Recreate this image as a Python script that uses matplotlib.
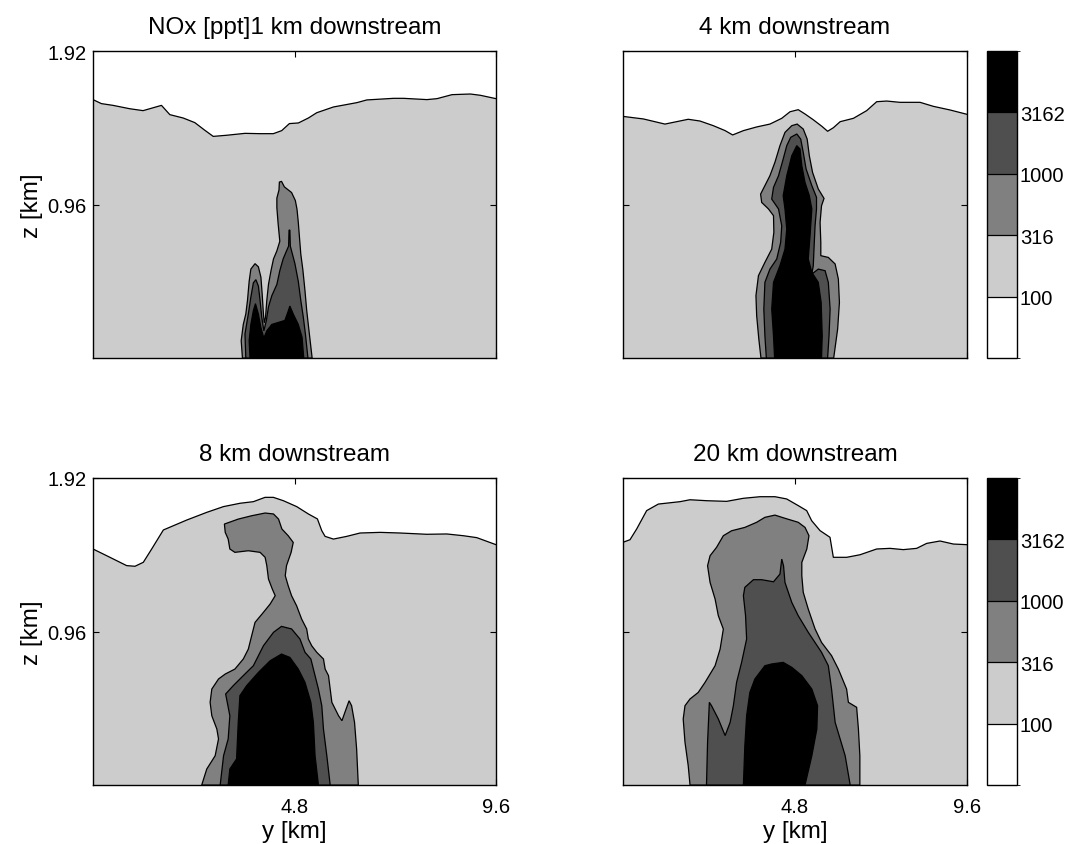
import matplotlib
matplotlib.use("Agg")
import matplotlib.pyplot as plt
from matplotlib.colors import ListedColormap, BoundaryNorm
from matplotlib.colorbar import ColorbarBase

plt.rcParams['font.family'] = ['Liberation Sans', 'DejaVu Sans']

# ---------------- data (y in km, z in km) ----------------
titles = ["NOx [ppt]1 km downstream", "4 km downstream", "8 km downstream", "20 km downstream"]
levels = [100, 316, 1000, 3162]
level_colors = ["#ffffff", "#cccccc", "#808080", "#4f4f4f", "#000000"]
y_max = 9.6
z_max = 1.92
x_ticks = [4.8, 9.6]
z_ticks = [0.96, 1.92]

# Panel 1: 1 km downstream
p1_top_y = [0, 0.199, 0.477, 0.875, 1.193, 1.631, 1.830, 2.148, 2.426, 2.665, 2.864, 3.182, 3.620, 3.978,
            4.296, 4.495, 4.678, 4.893, 5.131, 5.330, 5.728, 6.285, 6.523, 7.160, 7.399, 7.955, 8.194,
            8.552, 8.990, 9.228, 9.6]
p1_top_z = [1.616, 1.591, 1.580, 1.559, 1.547, 1.580, 1.522, 1.501, 1.472, 1.424, 1.386, 1.393, 1.405, 1.403,
            1.403, 1.422, 1.466, 1.470, 1.501, 1.534, 1.570, 1.597, 1.614, 1.624, 1.624, 1.616, 1.622,
            1.647, 1.651, 1.643, 1.622]
p1_c316_y = [3.56, 3.53, 3.58, 3.64, 3.68, 3.72, 3.76, 3.86, 3.94, 4.00, 4.03, 4.06, 4.08, 4.11, 4.14, 4.18,
             4.24, 4.30, 4.38, 4.45, 4.41, 4.38, 4.38, 4.43, 4.44, 4.49, 4.56, 4.73, 4.82, 4.86, 4.89,
             4.95, 5.00, 5.05, 5.09, 5.15, 5.22]
p1_c316_z = [0.00, 0.108, 0.21, 0.275, 0.36, 0.48, 0.556, 0.59, 0.57, 0.505, 0.40, 0.275, 0.22, 0.255, 0.36,
             0.46, 0.546, 0.62, 0.67, 0.73, 0.84, 0.94, 1.00, 1.05, 1.10, 1.105, 1.07, 1.035, 0.985, 0.93,
             0.85, 0.65, 0.55, 0.42, 0.30, 0.16, 0.00]
p1_c1000_y = [3.64, 3.62, 3.70, 3.76, 3.82, 3.88, 3.94, 3.98, 4.02, 4.07, 4.13, 4.18, 4.26, 4.38, 4.45,
              4.53, 4.61, 4.66, 4.67, 4.69, 4.70, 4.73, 4.81, 4.89, 4.95, 5.01, 5.06, 5.12]
p1_c1000_z = [0.00, 0.15, 0.275, 0.38, 0.47, 0.49, 0.45, 0.36, 0.255, 0.17, 0.235, 0.32, 0.39, 0.46, 0.546,
              0.62, 0.67, 0.70, 0.80, 0.80, 0.70, 0.67, 0.59, 0.48, 0.36, 0.255, 0.15, 0.00]
p1_c3162_y = [3.74, 3.72, 3.76, 3.82, 3.87, 3.94, 4.00, 4.07, 4.14, 4.26, 4.57, 4.64, 4.69, 4.77, 4.89,
              4.98, 5.02]
p1_c3162_z = [0.00, 0.108, 0.21, 0.296, 0.34, 0.275, 0.19, 0.125, 0.17, 0.21, 0.235, 0.285, 0.325, 0.275,
              0.21, 0.13, 0.00]

# Panel 2: 4 km downstream
p2_top_y = [0, 0.57, 1.17, 1.82, 2.15, 2.52, 2.85, 3.06, 3.36, 3.73, 4.10, 4.43, 4.66, 4.89, 5.08, 5.31,
            5.55, 5.71, 5.87, 6.06, 6.43, 6.80, 7.08, 7.36, 7.73, 8.29, 8.66, 9.13, 9.6]
p2_top_z = [1.511, 1.495, 1.463, 1.493, 1.482, 1.453, 1.422, 1.395, 1.422, 1.445, 1.463, 1.499, 1.540, 1.553,
            1.526, 1.490, 1.449, 1.418, 1.440, 1.478, 1.499, 1.547, 1.603, 1.607, 1.599, 1.599, 1.574,
            1.551, 1.524]
p2_c316_y = [3.85, 3.79, 3.73, 3.71, 3.78, 3.96, 4.15, 4.21, 4.20, 4.06, 3.87, 3.84, 3.96, 4.10, 4.24, 4.38,
             4.52, 4.71, 4.86, 5.03, 5.14, 5.20, 5.29, 5.45, 5.61, 5.54, 5.50, 5.52, 5.52, 5.73, 5.92,
             6.01, 6.04, 5.99, 5.88]
p2_c316_z = [0.00, 0.119, 0.265, 0.390, 0.515, 0.598, 0.681, 0.786, 0.890, 0.932, 0.973, 1.025, 1.078,
             1.140, 1.224, 1.328, 1.411, 1.453, 1.463, 1.432, 1.369, 1.265, 1.161, 1.057, 0.998, 0.952,
             0.848, 0.723, 0.640, 0.629, 0.588, 0.494, 0.348, 0.181, 0.00]
p2_c1000_y = [4.00, 3.96, 3.93, 3.96, 4.10, 4.29, 4.40, 4.43, 4.34, 4.15, 4.20, 4.34, 4.47, 4.57, 4.68,
              4.85, 4.96, 5.03, 5.11, 5.27, 5.40, 5.40, 5.36, 5.33, 5.31, 5.27, 5.45, 5.64, 5.73, 5.78,
              5.75, 5.71]
p2_c1000_z = [0.00, 0.139, 0.306, 0.473, 0.556, 0.619, 0.723, 0.827, 0.932, 0.994, 1.067, 1.140, 1.244,
              1.328, 1.380, 1.401, 1.369, 1.286, 1.182, 1.078, 1.005, 0.932, 0.827, 0.681, 0.577, 0.525,
              0.556, 0.546, 0.473, 0.306, 0.139, 0.00]
p2_c3162_y = [4.23, 4.20, 4.15, 4.20, 4.38, 4.52, 4.57, 4.52, 4.47, 4.57, 4.71, 4.85, 4.94, 4.99, 5.08,
              5.20, 5.27, 5.22, 5.17, 5.27, 5.45, 5.53, 5.56, 5.54]
p2_c3162_z = [0.00, 0.139, 0.306, 0.473, 0.577, 0.681, 0.806, 0.932, 1.015, 1.140, 1.265, 1.328, 1.307,
              1.203, 1.098, 1.015, 0.932, 0.765, 0.619, 0.536, 0.473, 0.348, 0.139, 0.00]

# Panel 3: 8 km downstream
p3_top_y = [0, 0.326, 0.802, 1.001, 1.199, 1.398, 1.676, 2.232, 2.708, 3.106, 3.503, 3.820, 4.098, 4.297,
            4.535, 4.853, 5.131, 5.346, 5.449, 5.528, 5.727, 6.044, 6.362, 6.839, 7.315, 7.951, 8.427,
            8.824, 9.142, 9.6]
p3_top_z = [1.476, 1.434, 1.372, 1.368, 1.393, 1.476, 1.595, 1.657, 1.705, 1.741, 1.762, 1.772, 1.799,
            1.799, 1.778, 1.741, 1.695, 1.664, 1.591, 1.555, 1.538, 1.555, 1.576, 1.580, 1.576, 1.568,
            1.570, 1.559, 1.547, 1.503]
p3_c316_y = [2.59, 2.71, 2.91, 2.99, 2.95, 2.83, 2.79, 2.83, 2.99, 3.15, 3.38, 3.58, 3.70, 3.78, 3.86, 4.06,
             4.22, 4.34, 4.27, 4.18, 4.14, 4.10, 3.98, 3.70, 3.38, 3.26, 3.22, 3.15, 3.13, 3.46, 3.78, 4.10,
             4.30, 4.42, 4.50, 4.65, 4.77, 4.72, 4.61, 4.58, 4.65, 4.73, 4.85, 4.97, 5.09, 5.13, 5.21, 5.33,
             5.49, 5.53, 5.61, 5.69, 5.85, 5.93, 6.00, 6.10, 6.16, 6.23, 6.28, 6.32]
p3_c316_z = [0.00, 0.100, 0.183, 0.288, 0.350, 0.433, 0.517, 0.600, 0.663, 0.694, 0.725, 0.788, 0.850,
             0.934, 1.017, 1.080, 1.132, 1.184, 1.226, 1.288, 1.372, 1.424, 1.455, 1.465, 1.455, 1.476,
             1.538, 1.580, 1.632, 1.663, 1.684, 1.701, 1.695, 1.663, 1.601, 1.559, 1.517, 1.455, 1.372,
             1.309, 1.246, 1.184, 1.121, 1.038, 0.976, 0.913, 0.871, 0.830, 0.788, 0.725, 0.684, 0.517,
             0.433, 0.402, 0.454, 0.527, 0.496, 0.392, 0.225, 0.00]
p3_c1000_y = [3.03, 3.11, 3.22, 3.26, 3.16, 3.34, 3.58, 3.82, 4.06, 4.30, 4.49, 4.73, 4.93, 5.05, 5.19,
              5.25, 5.37, 5.45, 5.49, 5.57, 5.65]
p3_c1000_z = [0.00, 0.183, 0.288, 0.433, 0.569, 0.621, 0.684, 0.746, 0.871, 0.955, 0.992, 0.976, 0.913,
              0.830, 0.788, 0.725, 0.600, 0.496, 0.350, 0.183, 0.00]
p3_c3162_y = [3.22, 3.26, 3.42, 3.46, 3.50, 3.66, 3.94, 4.22, 4.49, 4.69, 4.89, 5.05, 5.19, 5.25, 5.29,
              5.37]
p3_c3162_z = [0.00, 0.100, 0.163, 0.392, 0.559, 0.621, 0.704, 0.777, 0.819, 0.798, 0.725, 0.642, 0.517,
              0.392, 0.183, 0.00]

# Panel 4: 20 km downstream
p4_top_y = [0, 0.195, 0.381, 0.660, 0.986, 1.591, 1.870, 2.335, 2.893, 3.358, 3.823, 4.242, 4.567, 4.893,
            5.126, 5.265, 5.498, 5.777, 5.870, 6.242, 6.614, 7.079, 7.451, 7.823, 8.195, 8.474, 8.847,
            9.219, 9.6]
p4_top_z = [1.518, 1.534, 1.601, 1.716, 1.757, 1.772, 1.784, 1.778, 1.774, 1.793, 1.803, 1.803, 1.789,
            1.747, 1.716, 1.653, 1.591, 1.549, 1.424, 1.424, 1.440, 1.476, 1.480, 1.472, 1.480, 1.511,
            1.526, 1.507, 1.503]
p4_c316_y = [1.87, 1.82, 1.73, 1.68, 1.73, 1.87, 2.10, 2.29, 2.57, 2.71, 2.80, 2.66, 2.57, 2.43, 2.36, 2.43,
             2.61, 2.80, 3.03, 3.40, 3.73, 3.96, 4.24, 4.52, 4.89, 5.08, 5.19, 5.13, 4.99, 4.99, 5.03, 5.17,
             5.36, 5.54, 5.82, 6.01, 6.24, 6.29, 6.52, 6.57, 6.61, 6.61]
p4_c316_z = [0.00, 0.121, 0.267, 0.413, 0.496, 0.538, 0.579, 0.642, 0.746, 0.850, 0.975, 1.059, 1.163,
             1.267, 1.371, 1.434, 1.486, 1.559, 1.590, 1.611, 1.643, 1.674, 1.688, 1.668, 1.643, 1.611,
             1.559, 1.476, 1.392, 1.309, 1.205, 1.100, 0.976, 0.892, 0.809, 0.725, 0.600, 0.517, 0.486,
             0.350, 0.183, 0.00]
p4_c1000_y = [2.33, 2.36, 2.41, 2.47, 2.66, 2.85, 2.99, 3.08, 3.17, 3.31, 3.45, 3.42, 3.36, 3.40, 3.64,
              3.87, 4.20, 4.38, 4.43, 4.48, 4.52, 4.71, 4.89, 5.17, 5.54, 5.73, 5.82, 5.92, 6.20, 6.34]
p4_c1000_z = [0.00, 0.267, 0.517, 0.496, 0.413, 0.309, 0.392, 0.496, 0.642, 0.767, 0.913, 1.059, 1.184,
              1.236, 1.284, 1.284, 1.271, 1.319, 1.413, 1.371, 1.267, 1.142, 1.059, 0.955, 0.830, 0.746,
              0.600, 0.392, 0.183, 0.00]
p4_c3162_y = [3.36, 3.40, 3.45, 3.54, 3.68, 3.96, 4.15, 4.47, 4.71, 4.99, 5.27, 5.43, 5.41, 5.27, 5.08]
p4_c3162_z = [0.00, 0.246, 0.434, 0.579, 0.663, 0.746, 0.757, 0.767, 0.736, 0.684, 0.600, 0.496, 0.350,
              0.183, 0.00]

panels = [
    (p1_top_y, p1_top_z, [(p1_c316_y, p1_c316_z), (p1_c1000_y, p1_c1000_z), (p1_c3162_y, p1_c3162_z)]),
    (p2_top_y, p2_top_z, [(p2_c316_y, p2_c316_z), (p2_c1000_y, p2_c1000_z), (p2_c3162_y, p2_c3162_z)]),
    (p3_top_y, p3_top_z, [(p3_c316_y, p3_c316_z), (p3_c1000_y, p3_c1000_z), (p3_c3162_y, p3_c3162_z)]),
    (p4_top_y, p4_top_z, [(p4_c316_y, p4_c316_z), (p4_c1000_y, p4_c1000_z), (p4_c3162_y, p4_c3162_z)]),
]

# ---------------- layout ----------------
W, H = 1070, 845
fig = plt.figure(figsize=(W / 100, H / 100), dpi=100)

def frac(x0, y0, x1, y1):
    return [x0 / W, 1 - y1 / H, (x1 - x0) / W, (y1 - y0) / H]

ax_rects = [frac(93, 52, 496, 359), frac(623, 52, 967, 359),
            frac(93, 479, 496, 786), frac(623, 479, 967, 786)]
cb_rects = [frac(987, 52, 1017, 359), frac(987, 479, 1017, 786)]

tick_fs = 14.5
lab_fs = 17.5

for i, (rect, (ty, tz, blobs)) in enumerate(zip(ax_rects, panels)):
    ax = fig.add_axes(rect)
    ax.set_facecolor(level_colors[1])
    ax.fill_between(ty, tz, z_max, facecolor=level_colors[0], edgecolor='none', zorder=1)
    ax.plot(ty, tz, color='k', lw=0.9, zorder=2)
    for k, (by, bz) in enumerate(blobs):
        ax.fill(by, bz, facecolor=level_colors[k + 2], edgecolor='k', lw=0.9, zorder=3 + k)
    ax.set_xlim(0, y_max)
    ax.set_ylim(0, z_max)
    ax.set_xticks(x_ticks)
    ax.set_yticks(z_ticks)
    ax.tick_params(direction='in', length=4, width=0.8, top=True, right=True, labelsize=tick_fs)
    ax.tick_params(axis='x', pad=8.5)
    ax.tick_params(axis='y', pad=4.5)
    if i < 2:
        ax.set_xticklabels([])
    else:
        ax.set_xticklabels(["4.8", "9.6"])
        ax.set_xlabel("y [km]", fontsize=lab_fs, labelpad=3)
    if i % 2 == 1:
        ax.set_yticklabels([])
    else:
        ax.set_yticklabels(["0.96", "1.92"])
        ax.set_ylabel("z [km]", fontsize=lab_fs, labelpad=3)
    for s in ax.spines.values():
        s.set_linewidth(1.0)
    ax.set_title(titles[i], fontsize=lab_fs, pad=13)

cmap = ListedColormap(level_colors)
bounds = [31.6] + levels + [10000]
norm = BoundaryNorm(bounds, cmap.N)
for rect in cb_rects:
    cax = fig.add_axes(rect)
    cb = ColorbarBase(cax, cmap=cmap, norm=norm, boundaries=bounds, ticks=levels,
                      spacing='uniform', drawedges=True)
    cb.set_ticklabels([str(v) for v in levels])
    cb.outline.set_linewidth(1.0)
    cb.dividers.set_linewidth(0.9)
    cax.tick_params(direction='in', length=0, labelsize=tick_fs, pad=2)

fig.savefig("out.png", dpi=100)
